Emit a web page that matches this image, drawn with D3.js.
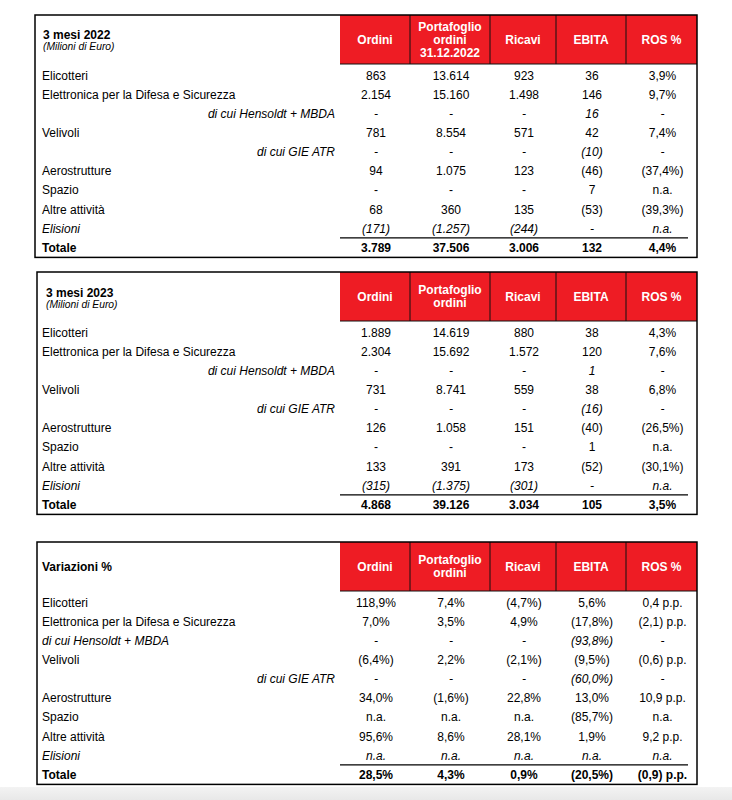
<!DOCTYPE html>
<html>
<head>
<meta charset="utf-8">
<script src="https://cdn.jsdelivr.net/npm/d3@7"></script>
<style>
  body { margin: 0; background: #fff; }
  svg { display: block; font-family: "Liberation Sans", Arial, sans-serif; }
</style>
</head>
<body>
<div id="chart"></div>
<script>
// row labels shared by the three tables
var rowLabels = ["Elicotteri", "Elettronica per la Difesa e Sicurezza", "di cui Hensoldt + MBDA",
  "Velivoli", "di cui GIE ATR", "Aerostrutture", "Spazio", "Altre attività", "Elisioni", "Totale"];
var rowKinds = ["main", "main", "subR", "main", "subR", "main", "main", "main", "elis", "total"];
var rowKindsVar = ["main", "main", "subL", "main", "subR", "main", "main", "main", "elis", "total"];

var colNames = ["Ordini", "Portafoglio ordini", "Ricavi", "EBITA", "ROS %"];
var headers2022 = [["Ordini"], ["Portafoglio", "ordini", "31.12.2022"], ["Ricavi"], ["EBITA"], ["ROS %"]];
var headers2023 = [["Ordini"], ["Portafoglio", "ordini"], ["Ricavi"], ["EBITA"], ["ROS %"]];

var values2022 = [
  ["863", "13.614", "923", "36", "3,9%"],
  ["2.154", "15.160", "1.498", "146", "9,7%"],
  ["-", "-", "-", "16", "-"],
  ["781", "8.554", "571", "42", "7,4%"],
  ["-", "-", "-", "(10)", "-"],
  ["94", "1.075", "123", "(46)", "(37,4%)"],
  ["-", "-", "-", "7", "n.a."],
  ["68", "360", "135", "(53)", "(39,3%)"],
  ["(171)", "(1.257)", "(244)", "-", "n.a."],
  ["3.789", "37.506", "3.006", "132", "4,4%"]
];
var values2023 = [
  ["1.889", "14.619", "880", "38", "4,3%"],
  ["2.304", "15.692", "1.572", "120", "7,6%"],
  ["-", "-", "-", "1", "-"],
  ["731", "8.741", "559", "38", "6,8%"],
  ["-", "-", "-", "(16)", "-"],
  ["126", "1.058", "151", "(40)", "(26,5%)"],
  ["-", "-", "-", "1", "n.a."],
  ["133", "391", "173", "(52)", "(30,1%)"],
  ["(315)", "(1.375)", "(301)", "-", "n.a."],
  ["4.868", "39.126", "3.034", "105", "3,5%"]
];
var variations = [
  ["118,9%", "7,4%", "(4,7%)", "5,6%", "0,4 p.p."],
  ["7,0%", "3,5%", "4,9%", "(17,8%)", "(2,1) p.p."],
  ["-", "-", "-", "(93,8%)", "-"],
  ["(6,4%)", "2,2%", "(2,1%)", "(9,5%)", "(0,6) p.p."],
  ["-", "-", "-", "(60,0%)", "-"],
  ["34,0%", "(1,6%)", "22,8%", "13,0%", "10,9 p.p."],
  ["n.a.", "n.a.", "n.a.", "(85,7%)", "n.a."],
  ["95,6%", "8,6%", "28,1%", "1,9%", "9,2 p.p."],
  ["n.a.", "n.a.", "n.a.", "n.a.", "n.a."],
  ["28,5%", "4,3%", "0,9%", "(20,5%)", "(0,9) p.p."]
];

var width = 732, height = 800;
var red = "#ee1c24";
var colW = [70, 80, 66, 70, 71];
var colStart = 340;
var colEdges = [colStart].concat(Array.from(d3.cumsum(colW), function(d){ return colStart + d; }));
var rightEdge = colEdges[colEdges.length - 1];

var svg = d3.select("#chart").append("svg")
  .attr("width", width)
  .attr("height", height);

// grey strip at the bottom of the screenshot
var grad = svg.append("defs").append("linearGradient")
  .attr("id", "bottomgrey").attr("x1", 0).attr("y1", 0).attr("x2", 0).attr("y2", 1);
grad.append("stop").attr("offset", "0%").attr("stop-color", "#f3f3f3");
grad.append("stop").attr("offset", "100%").attr("stop-color", "#e8e8e8");
svg.append("rect").attr("x", 0).attr("y", 787).attr("width", width).attr("height", 13)
  .attr("fill", "url(#bottomgrey)");

function drawTable(opt) {
  var top = opt.top;
  var headH = 49;
  var y = d3.scaleLinear().domain([0, rowLabels.length - 1])
    .range([top + 60.5, top + 60.5 + 19.1 * (rowLabels.length - 1)]);
  var bottom = y(rowLabels.length - 1) + 10;
  var g = svg.append("g");

  // header cells
  colNames.forEach(function(name, i) {
    g.append("rect")
      .attr("x", colEdges[i]).attr("y", top)
      .attr("width", colEdges[i + 1] - colEdges[i]).attr("height", headH)
      .attr("fill", red);
    var lines = opt.headers[i];
    var cx = (colEdges[i] + colEdges[i + 1]) / 2;
    var cy = top + headH / 2;
    lines.forEach(function(l, j) {
      g.append("text")
        .attr("x", cx)
        .attr("y", cy + (j - (lines.length - 1) / 2) * 13.3)
        .attr("dy", "0.36em")
        .attr("text-anchor", "middle")
        .attr("fill", "#fff")
        .attr("font-weight", "bold")
        .attr("font-size", "12px")
        .text(l);
    });
  });
  // header separators
  colEdges.slice(1, -1).forEach(function(x) {
    g.append("line").attr("x1", x).attr("x2", x).attr("y1", top).attr("y2", top + headH)
      .attr("stroke", "#111").attr("stroke-width", 1);
  });
  g.append("line").attr("x1", colStart).attr("x2", rightEdge)
    .attr("y1", top + headH).attr("y2", top + headH)
    .attr("stroke", "#111").attr("stroke-width", 1.2);

  // title
  opt.title.forEach(function(t, j) {
    g.append("text")
      .attr("x", opt.titleX)
      .attr("y", opt.titleY[j])
      .attr("font-size", t.size)
      .attr("font-weight", t.bold ? "bold" : "normal")
      .attr("font-style", t.italic ? "italic" : "normal")
      .attr("fill", "#000")
      .text(t.text);
  });

  // rows
  rowLabels.forEach(function(label, r) {
    var kind = opt.kinds[r];
    var italic = kind === "subR" || kind === "subL" || kind === "elis";
    var bold = kind === "total";
    g.append("text")
      .attr("x", kind === "subR" ? 335 : 42)
      .attr("y", y(r)).attr("dy", "0.36em")
      .attr("text-anchor", kind === "subR" ? "end" : "start")
      .attr("font-size", "12px")
      .attr("font-style", italic ? "italic" : "normal")
      .attr("font-weight", bold ? "bold" : "normal")
      .text(label);
    opt.values[r].forEach(function(v, c) {
      g.append("text")
        .attr("x", (colEdges[c] + colEdges[c + 1]) / 2 + 1)
        .attr("y", y(r)).attr("dy", "0.36em")
        .attr("text-anchor", "middle")
        .attr("font-size", "12px")
        .attr("font-style", italic ? "italic" : "normal")
        .attr("font-weight", bold ? "bold" : "normal")
        .text(v);
    });
  });

  // line above total
  var ly = (y(rowLabels.length - 2) + y(rowLabels.length - 1)) / 2;
  g.append("line").attr("x1", colStart).attr("x2", rightEdge - 9)
    .attr("y1", ly).attr("y2", ly)
    .attr("stroke", "#000").attr("stroke-width", 1.2);

  // outer box
  g.append("rect")
    .attr("x", opt.left).attr("y", top)
    .attr("width", rightEdge - opt.left).attr("height", bottom - top)
    .attr("fill", "none").attr("stroke", "#000").attr("stroke-width", 1.5);
}

drawTable({
  top: 15, left: 35, headers: headers2022, values: values2022, kinds: rowKinds,
  titleX: 43, titleY: [38.5, 49.5],
  title: [{text: "3 mesi 2022", size: "12px", bold: true}, {text: "(Milioni di Euro)", size: "10.3px", italic: true}]
});
drawTable({
  top: 272, left: 37, headers: headers2023, values: values2023, kinds: rowKinds,
  titleX: 46, titleY: [296.5, 307.5],
  title: [{text: "3 mesi 2023", size: "12px", bold: true}, {text: "(Milioni di Euro)", size: "10.3px", italic: true}]
});
drawTable({
  top: 542, left: 37, headers: headers2023, values: variations, kinds: rowKindsVar,
  titleX: 42, titleY: [571],
  title: [{text: "Variazioni %", size: "12px", bold: true}]
});
</script>
</body>
</html>
